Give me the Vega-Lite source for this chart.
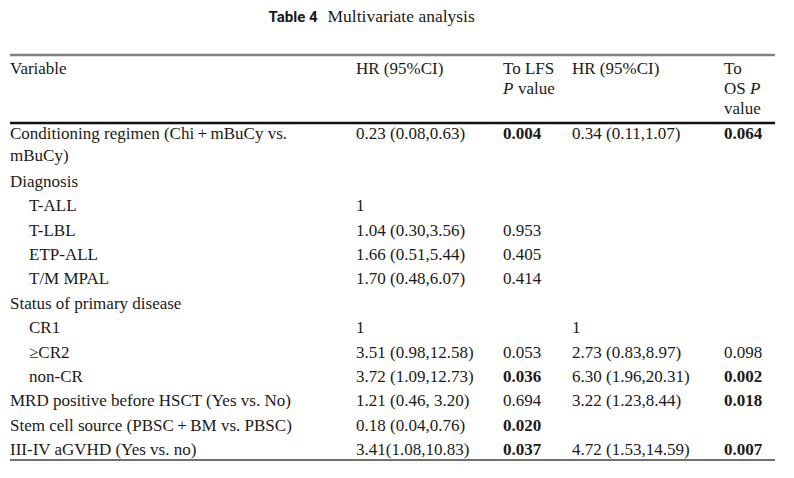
{
  "$schema": "https://vega.github.io/schema/vega-lite/v6.json",
  "width": 794,
  "height": 478,
  "autosize": {"type": "fit", "contains": "padding"},
  "padding": 0,
  "background": "white",
  "config": {
    "view": {"stroke": null},
    "text": {"font": "Liberation Serif", "fontSize": 17, "color": "#1a1a1a", "align": "left", "baseline": "middle"}
  },
  "datasets": {
    "cells": [
      {"row": 1, "col": 0, "text": "Variable"},
      {"row": 1, "col": 2, "text": "HR (95%CI)"},
      {"row": 1, "col": 3, "text": "To LFS"},
      {"row": 1, "col": 4, "text": "HR (95%CI)"},
      {"row": 1, "col": 5, "text": "To"},
      {"row": 2, "col": 5, "text": "OS"},
      {"row": 3, "col": 5, "text": "value"},
      {"row": 4, "col": 0, "text": "Conditioning regimen (Chi\u2009+\u2009mBuCy vs."},
      {"row": 4, "col": 2, "text": "0.23 (0.08,0.63)"},
      {"row": 4, "col": 3, "text": "0.004", "sig": true},
      {"row": 4, "col": 4, "text": "0.34 (0.11,1.07)"},
      {"row": 4, "col": 5, "text": "0.064", "sig": true},
      {"row": 5, "col": 0, "text": "mBuCy)"},
      {"row": 6, "col": 0, "text": "Diagnosis"},
      {"row": 7, "col": 1, "text": "T-ALL"},
      {"row": 7, "col": 2, "text": "1"},
      {"row": 8, "col": 1, "text": "T-LBL"},
      {"row": 8, "col": 2, "text": "1.04 (0.30,3.56)"},
      {"row": 8, "col": 3, "text": "0.953"},
      {"row": 9, "col": 1, "text": "ETP-ALL"},
      {"row": 9, "col": 2, "text": "1.66 (0.51,5.44)"},
      {"row": 9, "col": 3, "text": "0.405"},
      {"row": 10, "col": 1, "text": "T/M MPAL"},
      {"row": 10, "col": 2, "text": "1.70 (0.48,6.07)"},
      {"row": 10, "col": 3, "text": "0.414"},
      {"row": 11, "col": 0, "text": "Status of primary disease"},
      {"row": 12, "col": 1, "text": "CR1"},
      {"row": 12, "col": 2, "text": "1"},
      {"row": 12, "col": 4, "text": "1"},
      {"row": 13, "col": 1, "text": "≥CR2"},
      {"row": 13, "col": 2, "text": "3.51 (0.98,12.58)"},
      {"row": 13, "col": 3, "text": "0.053"},
      {"row": 13, "col": 4, "text": "2.73 (0.83,8.97)"},
      {"row": 13, "col": 5, "text": "0.098"},
      {"row": 14, "col": 1, "text": "non-CR"},
      {"row": 14, "col": 2, "text": "3.72 (1.09,12.73)"},
      {"row": 14, "col": 3, "text": "0.036", "sig": true},
      {"row": 14, "col": 4, "text": "6.30 (1.96,20.31)"},
      {"row": 14, "col": 5, "text": "0.002", "sig": true},
      {"row": 15, "col": 0, "text": "MRD positive before HSCT (Yes vs. No)"},
      {"row": 15, "col": 2, "text": "1.21 (0.46, 3.20)"},
      {"row": 15, "col": 3, "text": "0.694"},
      {"row": 15, "col": 4, "text": "3.22 (1.23,8.44)"},
      {"row": 15, "col": 5, "text": "0.018", "sig": true},
      {"row": 16, "col": 0, "text": "Stem cell source (PBSC\u2009+\u2009BM vs. PBSC)"},
      {"row": 16, "col": 2, "text": "0.18 (0.04,0.76)"},
      {"row": 16, "col": 3, "text": "0.020", "sig": true},
      {"row": 17, "col": 0, "text": "III-IV aGVHD (Yes vs. no)"},
      {"row": 17, "col": 2, "text": "3.41(1.08,10.83)"},
      {"row": 17, "col": 3, "text": "0.037", "sig": true},
      {"row": 17, "col": 4, "text": "4.72 (1.53,14.59)"},
      {"row": 17, "col": 5, "text": "0.007", "sig": true}
    ],
    "rules": [
      {"row": 0, "kind": "top"},
      {"row": 3.7, "kind": "mid"},
      {"row": 17.4, "kind": "bottom"}
    ]
  },
  "layer": [
    {
      "data": {"name": "cells"},
      "transform": [{"filter": "!datum.sig"}],
      "mark": {"type": "text"},
      "encoding": {
        "x": {
          "field": "col", "type": "quantitative",
          "scale": {"type": "linear", "domain": [0, 1, 2, 3, 4, 5, 6], "range": [10, 29, 356, 503, 572, 724, 775], "nice": false, "zero": false},
          "axis": {"orient": "top", "title": "Multivariate analysis", "titleX": 327, "titleY": 16, "titleAlign": "left", "titleAnchor": null, "titleBaseline": "middle", "titleFont": "Liberation Serif", "titleFontSize": 17.5, "titleFontWeight": "normal", "titleColor": "#1a1a1a", "labels": false, "ticks": false, "domain": false, "grid": false}
        },
        "y": {
          "field": "row", "type": "quantitative",
          "scale": {"type": "linear", "domain": [0, 1, 3, 3.7, 4, 5, 6, 17, 17.4], "range": [55, 69, 109, 123, 134, 156, 182, 450, 460], "nice": false, "zero": false},
          "axis": {"orient": "left", "title": "Table 4", "titleX": 268, "titleY": 16, "titleAngle": 0, "titleAlign": "left", "titleAnchor": null, "titleBaseline": "middle", "titleFont": "Roboto", "titleFontSize": 15, "titleFontWeight": "bold", "titleColor": "#1a1a1a", "labels": false, "ticks": false, "domain": false, "grid": false}
        },
        "text": {"field": "text"}
      }
    },
    {
      "data": {"name": "cells"},
      "transform": [{"filter": "datum.sig"}],
      "mark": {"type": "text", "fontWeight": "bold"},
      "encoding": {
        "x": {"field": "col", "type": "quantitative"},
        "y": {"field": "row", "type": "quantitative"},
        "text": {"field": "text"}
      }
    },
    {
      "data": {"values": [{"row": 2, "col": 3, "text": "P"}]},
      "mark": {"type": "text", "fontStyle": "italic"},
      "encoding": {
        "x": {"field": "col", "type": "quantitative"},
        "y": {"field": "row", "type": "quantitative"},
        "text": {"field": "text"}
      }
    },
    {
      "data": {"values": [{"row": 2, "col": 3, "text": "value"}]},
      "mark": {"type": "text", "dx": 15},
      "encoding": {
        "x": {"field": "col", "type": "quantitative"},
        "y": {"field": "row", "type": "quantitative"},
        "text": {"field": "text"}
      }
    },
    {
      "data": {"values": [{"row": 2, "col": 5, "text": "P"}]},
      "mark": {"type": "text", "fontStyle": "italic", "dx": 26},
      "encoding": {
        "x": {"field": "col", "type": "quantitative"},
        "y": {"field": "row", "type": "quantitative"},
        "text": {"field": "text"}
      }
    },
    {
      "data": {"name": "rules"},
      "transform": [{"filter": "datum.kind === 'top'"}],
      "mark": {"type": "rule", "color": "#808080", "strokeWidth": 2.5},
      "encoding": {
        "x": {"datum": 0, "type": "quantitative"},
        "x2": {"datum": 6},
        "y": {"field": "row", "type": "quantitative"}
      }
    },
    {
      "data": {"name": "rules"},
      "transform": [{"filter": "datum.kind === 'mid'"}],
      "mark": {"type": "rule", "color": "#111111", "strokeWidth": 2.5},
      "encoding": {
        "x": {"datum": 0, "type": "quantitative"},
        "x2": {"datum": 6},
        "y": {"field": "row", "type": "quantitative"}
      }
    },
    {
      "data": {"name": "rules"},
      "transform": [{"filter": "datum.kind === 'bottom'"}],
      "mark": {"type": "rule", "color": "#707070", "strokeWidth": 2},
      "encoding": {
        "x": {"datum": 0, "type": "quantitative"},
        "x2": {"datum": 6},
        "y": {"field": "row", "type": "quantitative"}
      }
    }
  ]
}
